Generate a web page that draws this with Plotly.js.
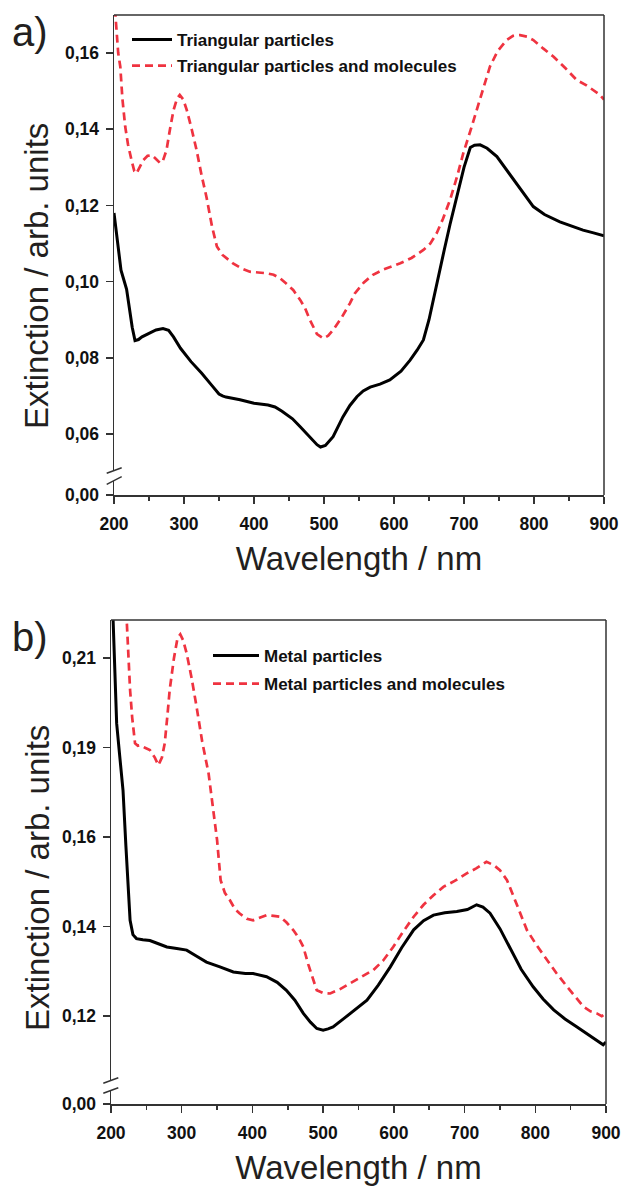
<!DOCTYPE html>
<html>
<head>
<meta charset="utf-8">
<script src="https://cdn.plot.ly/plotly-3.0.1.min.js"></script>
<style>html,body{margin:0;padding:0;background:#fff}#chart{width:621px;height:1188px}</style>
</head>
<body>
<div id="chart"></div>
<script>
// ---------- Panel a data ----------
const wlTriParticles = [200,203,206,210,214,218,222,226,230,235,240,250,260,270,278,285,295,310,325,340,350,355,360,380,400,420,430,440,455,466,480,490,495,502,513,527,537,547,556,566,580,594,610,623,633,642,650,656,663,672,680,690,700,709,715,723,733,747,760,775,787,799,815,837,855,870,885,897,900];
const extTriParticles = [0.118,0.113,0.108,0.103,0.1005,0.098,0.093,0.088,0.0845,0.0848,0.0855,0.0865,0.0873,0.0877,0.0872,0.0855,0.0825,0.0790,0.0760,0.0727,0.0705,0.0700,0.0697,0.0690,0.0681,0.0676,0.0671,0.0660,0.0640,0.0619,0.0590,0.0572,0.0566,0.0570,0.0593,0.0645,0.0675,0.0698,0.0713,0.0723,0.0731,0.0742,0.0765,0.0794,0.0820,0.0847,0.0900,0.0952,0.1004,0.1085,0.1150,0.1223,0.1300,0.1352,0.1358,0.1359,0.1350,0.1328,0.1295,0.1258,0.1225,0.1197,0.1176,0.1157,0.1145,0.1135,0.1128,0.1122,0.1120];

const wlTriMolecules = [200,203,206,209,212,216,220,225,229,232,237,242,248,254,260,266,270,275,280,285,290,294,299,304,311,318,325,332,340,347,355,362,370,382,394,406,418,428,437,446,456,466,473,480,490,499,506,513,525,537,544,557,570,585,600,609,625,642,652,661,670,680,690,699,709,718,728,737,748,761,770,780,790,799,813,828,845,861,875,885,893,900];
const extTriMolecules = [0.175,0.168,0.160,0.1564,0.148,0.1407,0.136,0.1319,0.129,0.1284,0.130,0.1319,0.1330,0.1332,0.1322,0.1311,0.1318,0.1345,0.140,0.1450,0.1480,0.1490,0.1478,0.1450,0.140,0.1345,0.128,0.1223,0.1145,0.1092,0.1070,0.1060,0.1048,0.1035,0.1026,0.1024,0.1022,0.1018,0.1009,0.0995,0.0978,0.0952,0.0930,0.0899,0.0862,0.0851,0.0858,0.0873,0.0905,0.0943,0.0969,0.0998,0.1018,0.1032,0.1042,0.1048,0.1062,0.1083,0.1100,0.1127,0.1165,0.1214,0.1275,0.1337,0.1395,0.1450,0.1510,0.1564,0.1605,0.1634,0.1645,0.1647,0.1643,0.1634,0.1612,0.1590,0.1560,0.1529,0.1515,0.1503,0.1492,0.1478];

// ---------- Panel b data ----------
const wlMetParticles = [200,203,206,208,212,217,221,224.5,227,231,236,245,255,267,279,293,307,320,335,354,373,390,401,420,435,448,460,472,482,491,500,507,514,530,546,562,578,595,611,628,642,656,672,689,704,717,726,736,750,764,780,797,811,826,842,859,870,882,896,900];
const extMetParticles = [0.235,0.2196,0.202,0.1936,0.186,0.1768,0.163,0.1534,0.1441,0.1405,0.1395,0.1392,0.1390,0.1382,0.1374,0.1370,0.1366,0.1352,0.1336,0.1324,0.1311,0.1307,0.1307,0.1299,0.1285,0.1265,0.1240,0.1207,0.1185,0.1169,0.1165,0.1168,0.1173,0.1195,0.1218,0.1240,0.1278,0.1324,0.1372,0.1417,0.1440,0.1454,0.1460,0.1463,0.1468,0.1480,0.1474,0.1459,0.1420,0.1374,0.1318,0.1274,0.1243,0.1216,0.1193,0.1173,0.1160,0.1145,0.1128,0.1135];

const wlMetMolecules = [218,222,225,227,230,234,238,241,248,255,262,267,272,276,280,283,289,294,298,302,307,314,321,329,338,344,350,355,361,368,375,382,392,401,410,420,430,439,448,458,466,472,479,486,491,500,510,524,538,555,571,585,599,613,628,642,656,670,686,703,717,731,741,750,760,774,788,802,816,830,845,857,868,878,887,894,900];
const extMetMolecules = [0.235,0.2196,0.208,0.202,0.195,0.1886,0.1880,0.1881,0.1875,0.1869,0.1850,0.1831,0.1850,0.1886,0.1960,0.2020,0.2100,0.2150,0.2160,0.2145,0.2112,0.2050,0.1978,0.1890,0.1810,0.1720,0.1643,0.1542,0.1510,0.1492,0.1470,0.1458,0.1445,0.1441,0.1448,0.1454,0.1452,0.1450,0.1436,0.1416,0.1395,0.1374,0.1330,0.1290,0.1265,0.1258,0.1257,0.1268,0.1282,0.1298,0.1316,0.1340,0.1374,0.1412,0.1450,0.1480,0.1504,0.1525,0.1540,0.1559,0.1572,0.1588,0.1580,0.1567,0.1542,0.1480,0.1417,0.1378,0.1342,0.1308,0.1274,0.1248,0.1224,0.1212,0.1207,0.1200,0.1207];

// ---------- Tick labels ----------
const xTickVals = [200,300,400,500,600,700,800,900];
const xTickText = ['200','300','400','500','600','700','800','900'];
const xMinorVals = [250,350,450,550,650,750,850];
const yTickValsA = [0.06,0.08,0.10,0.12,0.14,0.16];
const yTickTextA = ['0,06','0,08','0,10','0,12','0,14','0,16'];
const yTickValsB = [0.12,0.1425,0.165,0.1875,0.21];
const yTickTextB = ['0,12','0,14','0,16','0,19','0,21'];
const yZeroVals = [0];
const yZeroText = ['0,00'];

const names = ['Triangular particles','Triangular particles and molecules','Metal particles','Metal particles and molecules'];

// ---------- Layout helpers ----------
const W = 621, H = 1188;
const px = v => v / W;
const py = v => 1 - v / H;
const AXC = '#333333';
const TXT = '#231f20';
const RED = '#ef3340';
const tickFont = {family: 'Liberation Sans, Arial, sans-serif', size: 17.5, color: '#111', weight: 'bold'};
const titleFont = {family: 'Liberation Sans, Arial, sans-serif', size: 33, color: TXT};
const legFont = {family: 'Liberation Sans, Arial, sans-serif', size: 17, color: '#111', weight: 'bold'};

function xAx(d, anchor) {
  return {domain: d, anchor: anchor, range: [200, 900], tickvals: xTickVals, ticktext: xTickText,
    ticks: 'outside', ticklen: 7, tickwidth: 1.5, tickcolor: AXC, showline: true, linecolor: AXC, linewidth: 1.5,
    minor: {tickvals: xMinorVals, ticks: 'outside', ticklen: 4, tickwidth: 1.5, tickcolor: AXC},
    showgrid: false, zeroline: false, tickfont: tickFont, ticklabelstandoff: 5,
    title: {text: 'Wavelength / nm', font: titleFont, standoff: 14}};
}
function yAx(d, anchor, range, tv, tt) {
  return {domain: d, anchor: anchor, range: range, tickvals: tv, ticktext: tt,
    ticks: 'outside', ticklen: 7, tickwidth: 1.5, tickcolor: AXC, showline: true, linecolor: AXC, linewidth: 1.5,
    showgrid: false, zeroline: false, tickfont: tickFont, ticklabelstandoff: 3};
}
function seg(x0, y0, x1, y1, w, c) {
  return {type: 'line', xref: 'paper', yref: 'paper', x0: px(x0), y0: py(y0), x1: px(x1), y1: py(y1),
    line: {color: c || AXC, width: w || 1.5}};
}

const traces = [
  {x: wlTriParticles, y: extTriParticles, xaxis: 'x', yaxis: 'y', name: names[0], mode: 'lines',
   line: {color: '#000', width: 3}, legend: 'legend', legendgroup: 'a1'},
  {x: wlTriMolecules, y: extTriMolecules, xaxis: 'x', yaxis: 'y', name: names[1], mode: 'lines',
   line: {color: RED, width: 2.7, dash: '8px,5px'}, legend: 'legend', legendgroup: 'a2'},
  {x: wlMetParticles, y: extMetParticles, xaxis: 'x2', yaxis: 'y3', name: names[2], mode: 'lines',
   line: {color: '#000', width: 3}, legend: 'legend2', legendgroup: 'b1'},
  {x: wlMetMolecules, y: extMetMolecules, xaxis: 'x2', yaxis: 'y3', name: names[3], mode: 'lines',
   line: {color: RED, width: 2.7, dash: '8px,5px'}, legend: 'legend2', legendgroup: 'b2'},
  // empty traces that only register the lower (broken-axis) subplots
  {x: [], y: [], xaxis: 'x', yaxis: 'y2', mode: 'lines', showlegend: false, hoverinfo: 'skip'},
  {x: [], y: [], xaxis: 'x2', yaxis: 'y4', mode: 'lines', showlegend: false, hoverinfo: 'skip'}
];

const layout = {
  width: W, height: H, margin: {l: 0, r: 0, t: 0, b: 0},
  paper_bgcolor: '#fff', plot_bgcolor: 'rgba(0,0,0,0)',
  showlegend: true,
  xaxis: xAx([px(114), px(604)], 'y2'),
  yaxis: yAx([py(471), py(15)], 'x', [0.0503, 0.16997], yTickValsA, yTickTextA),
  yaxis2: yAx([py(495), py(481)], 'x', [0, 1], yZeroVals, yZeroText),
  xaxis2: xAx([px(111), px(606)], 'y4'),
  yaxis3: yAx([py(1081), py(620)], 'x2', [0.1037, 0.2196], yTickValsB, yTickTextB),
  yaxis4: yAx([py(1104), py(1090)], 'x2', [0, 1], yZeroVals, yZeroText),
  legend: {x: px(127), y: py(22), xanchor: 'left', yanchor: 'top', bgcolor: 'rgba(0,0,0,0)', font: legFont,
    itemwidth: 40, traceorder: 'grouped', tracegroupgap: 1},
  legend2: {x: px(208), y: py(638), xanchor: 'left', yanchor: 'top', bgcolor: 'rgba(0,0,0,0)', font: legFont,
    itemwidth: 46, traceorder: 'grouped', tracegroupgap: 3},
  annotations: [
    {text: 'a)', xref: 'paper', yref: 'paper', x: px(10), y: py(32), xanchor: 'left', yanchor: 'middle', showarrow: false,
     font: {family: 'Liberation Sans, Arial, sans-serif', size: 40, color: TXT}},
    {text: 'b)', xref: 'paper', yref: 'paper', x: px(10), y: py(637), xanchor: 'left', yanchor: 'middle', showarrow: false,
     font: {family: 'Liberation Sans, Arial, sans-serif', size: 40, color: TXT}},
    {text: 'Extinction / arb. units', xref: 'paper', yref: 'paper', x: px(37), y: py(276), xanchor: 'center', yanchor: 'middle',
     textangle: -90, showarrow: false, font: titleFont},
    {text: 'Extinction / arb. units', xref: 'paper', yref: 'paper', x: px(37), y: py(878), xanchor: 'center', yanchor: 'middle',
     textangle: -90, showarrow: false, font: titleFont}
  ],
  shapes: [
    seg(114, 15, 604, 15), seg(604, 15, 604, 495),
    seg(106.7, 473.3, 121.7, 467.7), seg(106.7, 484.3, 121.7, 476.7),
    seg(111, 620, 606, 620), seg(606, 620, 606, 1104),
    seg(103.3, 1083.3, 118.3, 1077.7), seg(103.3, 1093.3, 118.3, 1087.7)
  ]
};

Plotly.newPlot('chart', traces, layout, {staticPlot: true, displayModeBar: false});
</script>
</body>
</html>
